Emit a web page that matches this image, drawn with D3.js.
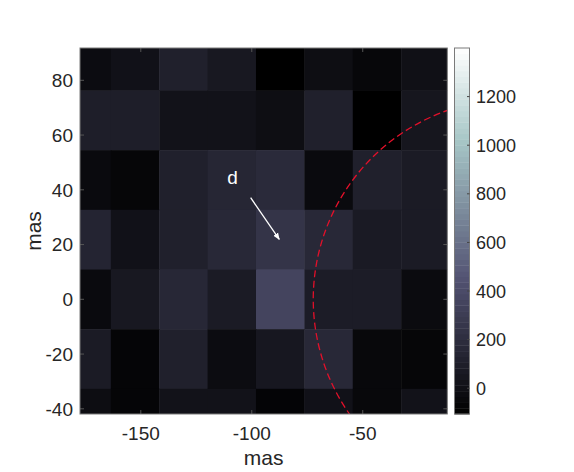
<!DOCTYPE html>
<html>
<head>
<meta charset="utf-8">
<script src="https://cdn.jsdelivr.net/npm/d3@7.9.0/dist/d3.min.js"></script>
<style>
  body { margin: 0; background: #fff; }
  svg text { font-family: "Liberation Sans", Arial, sans-serif; fill: #262626; }
</style>
</head>
<body>
<svg id="chart" width="574" height="472"></svg>
<script>
// pixel grid (mas), centres of each column / row
const pixelSize = 21.8;
const xCenters = [-174.4, -152.6, -130.8, -109, -87.2, -65.4, -43.6, -21.8];
const yCenters = [87.2, 65.4, 43.6, 21.8, 0, -21.8, -43.6];
// intensity, one row per yCenter (top to bottom)
const row0 = [-25, 9, 110, 56, -106, -11, -59, 2];
const row1 = [96, 96, 15, 15, -11, 110, -106, 42];
const row2 = [-39, -66, 110, 150, 178, -39, 110, 76];
const row3 = [137, 9, 110, 164, 245, 164, 70, 76];
const row4 = [-39, 56, 157, 76, 353, 83, 83, -32];
const row5 = [76, -72, 110, -25, 49, 164, -52, -66];
const row6 = [-18, -72, 15, 15, -79, 9, -52, 15];
const rows = [row0, row1, row2, row3, row4, row5, row6];

const xTicks = [-150, -100, -50];
const yTicks = [-40, -20, 0, 20, 40, 60, 80];
const cTicks = [0, 200, 400, 600, 800, 1000, 1200];
const cLimits = [-106, 1400];

// dashed ring (ellipse in mas) and the "d" annotation
const ring = { cx: 18, cy: 0, rx: 90.3, ry: 73.1 };
const arrowFrom = [-100.5, 37.1];
const arrowTo = [-87.6, 21.9];
const labelD = { text: "d", x: -108.7, y: 42.3 };

// MATLAB bone colormap
function bone(t) {
  t = Math.max(0, Math.min(1, t));
  const hr = Math.min(1, t / 0.375);
  const hg = Math.max(0, Math.min(1, (t - 0.375) / 0.375));
  const hb = Math.max(0, Math.min(1, (t - 0.75) / 0.25));
  const r = (7 * t + hb) / 8, g = (7 * t + hg) / 8, b = (7 * t + hr) / 8;
  return d3.rgb(r * 255, g * 255, b * 255).toString();
}

const svg = d3.select('#chart');
const pL = 80, pR = 447.3, pT = 48, pB = 414;

const x = d3.scaleLinear().domain([-177.4, -11.9]).range([pL, pR]);
const y = d3.scaleLinear().domain([-41.9, 91.8]).range([pB, pT]);
const color = d3.scaleSequential(bone).domain(cLimits);

svg.append('clipPath').attr('id', 'clip')
  .append('rect').attr('x', pL).attr('y', pT)
  .attr('width', pR - pL).attr('height', pB - pT);

const plot = svg.append('g').attr('clip-path', 'url(#clip)');

// cells
const cells = [];
rows.forEach((r, i) => r.forEach((v, j) => cells.push({ cx: xCenters[j], cy: yCenters[i], v })));
plot.selectAll('rect.cell').data(cells).enter().append('rect')
  .attr('class', 'cell')
  .attr('x', d => x(d.cx - pixelSize / 2))
  .attr('y', d => y(d.cy + pixelSize / 2))
  .attr('width', d => x(d.cx + pixelSize / 2) - x(d.cx - pixelSize / 2) + 0.5)
  .attr('height', d => y(d.cy - pixelSize / 2) - y(d.cy + pixelSize / 2) + 0.5)
  .attr('fill', d => color(d.v));

// dashed ring
plot.append('ellipse')
  .attr('cx', x(ring.cx)).attr('cy', y(ring.cy))
  .attr('rx', x(ring.cx + ring.rx) - x(ring.cx))
  .attr('ry', y(ring.cy) - y(ring.cy + ring.ry))
  .attr('fill', 'none').attr('stroke', '#e2102a')
  .attr('stroke-width', 1.3).attr('stroke-dasharray', '7,3.5');

// arrow + label
svg.append('defs').append('marker')
  .attr('id', 'head').attr('viewBox', '0 0 10 10')
  .attr('refX', 9).attr('refY', 5)
  .attr('markerWidth', 7).attr('markerHeight', 7)
  .attr('markerUnits', 'userSpaceOnUse')
  .attr('orient', 'auto')
  .append('path').attr('d', 'M0,1 L10,5 L0,9 Z').attr('fill', '#fff');

svg.append('line')
  .attr('x1', x(arrowFrom[0])).attr('y1', y(arrowFrom[1]))
  .attr('x2', x(arrowTo[0])).attr('y2', y(arrowTo[1]))
  .attr('stroke', '#fff').attr('stroke-width', 1.3)
  .attr('marker-end', 'url(#head)');

svg.append('text')
  .attr('x', x(labelD.x)).attr('y', y(labelD.y))
  .attr('text-anchor', 'middle')
  .style('fill', '#fff').style('font-size', '19px')
  .text(labelD.text);

// axes (MATLAB style: inner ticks, box)
const tickLen = 4;
const axG = svg.append('g');
xTicks.forEach(t => {
  axG.append('line').attr('x1', x(t)).attr('x2', x(t)).attr('y1', pB).attr('y2', pB - tickLen)
    .attr('stroke', '#555');
  axG.append('line').attr('x1', x(t)).attr('x2', x(t)).attr('y1', pT).attr('y2', pT + tickLen)
    .attr('stroke', '#555');
  axG.append('text').attr('x', x(t)).attr('y', 440)
    .attr('text-anchor', 'middle').style('font-size', '19px').text(t);
});
yTicks.forEach(t => {
  axG.append('line').attr('x1', pL).attr('x2', pL + tickLen).attr('y1', y(t)).attr('y2', y(t))
    .attr('stroke', '#555');
  axG.append('line').attr('x1', pR).attr('x2', pR - tickLen).attr('y1', y(t)).attr('y2', y(t))
    .attr('stroke', '#555');
  axG.append('text').attr('x', 73).attr('y', y(t)).attr('dy', '0.36em')
    .attr('text-anchor', 'end').style('font-size', '19px').text(t);
});
axG.append('rect').attr('x', pL).attr('y', pT)
  .attr('width', pR - pL).attr('height', pB - pT)
  .attr('fill', 'none').attr('stroke', '#7a7a7a').attr('stroke-width', 1);

svg.append('text').attr('x', (pL + pR) / 2).attr('y', 465)
  .attr('text-anchor', 'middle').style('font-size', '21px').text('mas');
svg.append('text')
  .attr('transform', `translate(40.5,${(pT + pB) / 2}) rotate(-90)`)
  .attr('text-anchor', 'middle').style('font-size', '21px').text('mas');

// colorbar
const cbLeft = 454.5, cbRight = 469.5;
const cScale = d3.scaleLinear().domain(cLimits).range([pB, pT]);
const steps = d3.range(64).map(i => cLimits[0] + (cLimits[1] - cLimits[0]) * i / 64);
const stepH = (cLimits[1] - cLimits[0]) / 64;
svg.append('g').selectAll('rect').data(steps).enter().append('rect')
  .attr('x', cbLeft).attr('width', cbRight - cbLeft)
  .attr('y', d => cScale(d + stepH))
  .attr('height', d => cScale(d) - cScale(d + stepH) + 0.4)
  .attr('fill', d => color(d + stepH / 2));
svg.append('rect').attr('x', cbLeft).attr('y', pT)
  .attr('width', cbRight - cbLeft).attr('height', pB - pT)
  .attr('fill', 'none').attr('stroke', '#7a7a7a');
cTicks.forEach(t => {
  svg.append('line').attr('x1', cbRight).attr('x2', cbRight - 2.5).attr('y1', cScale(t)).attr('y2', cScale(t))
    .attr('stroke', '#444');
  svg.append('text').attr('x', 476).attr('y', cScale(t)).attr('dy', '0.36em')
    .style('font-size', '18px').text(t);
});
</script>
</body>
</html>
